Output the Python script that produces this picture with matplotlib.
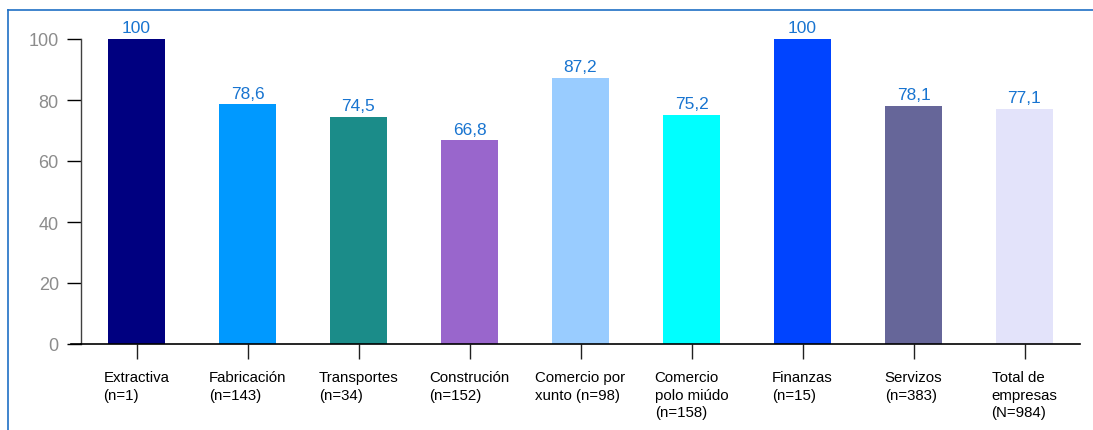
import matplotlib
matplotlib.use("Agg")
import matplotlib.pyplot as plt
from matplotlib.lines import Line2D

plt.rcParams['font.family'] = ['Liberation Sans', 'DejaVu Sans']

categories = ["Extractiva\n(n=1)", "Fabricación\n(n=143)", "Transportes\n(n=34)",
              "Construción\n(n=152)", "Comercio por\nxunto (n=98)", "Comercio\npolo miúdo\n(n=158)",
              "Finanzas\n(n=15)", "Servizos\n(n=383)", "Total de\nempresas\n(N=984)"]
values = [100, 78.6, 74.5, 66.8, 87.2, 75.2, 100, 78.1, 77.1]
value_labels = ["100", "78,6", "74,5", "66,8", "87,2", "75,2", "100", "78,1", "77,1"]
colors = ["#000080", "#0099FF", "#1B8C89", "#9966CC", "#99CCFF", "#00FFFF",
          "#0044FF", "#666699", "#E3E3FA"]
yticks = [0, 20, 40, 60, 80, 100]

W, H = 1093, 431
fig = plt.figure(figsize=(W / 100, H / 100), dpi=100)
ax = fig.add_axes([81 / W, (H - 345) / H, (1080 - 81) / W, (345 - 40) / H])

x = list(range(len(categories)))
ax.bar(x, values, width=0.505, color=colors, zorder=2)
ax.set_xlim(-0.5, len(categories) - 0.5)
ax.set_ylim(0, 100)

for xi, v, lab in zip(x, values, value_labels):
    ax.text(xi, v + 1.2, lab, ha='center', va='bottom', color='#1874D0',
            fontsize=12.5, clip_on=False)

ax.set_yticks(yticks)
ax.set_yticklabels([str(t) for t in yticks], color='#8C8C8C', fontsize=13)
ax.set_xticks(x)
ax.set_xticklabels(categories, fontsize=10.8, color='#000000',
                   ha='center', multialignment='left', linespacing=1.3)
ax.tick_params(axis='y', length=10, width=1, color='#000000', pad=6, direction='out')
ax.tick_params(axis='x', length=11, width=1, color='#202020', pad=8, direction='out')

for s in ['top', 'right']:
    ax.spines[s].set_visible(False)
ax.spines['left'].set_color('#404040')
ax.spines['bottom'].set_color('#000000')
ax.spines['left'].set_linewidth(1)
ax.spines['bottom'].set_linewidth(1.2)

# x-axis line extends slightly left of y axis
ax.plot([-0.59, -0.5], [0, 0], color='#000000', lw=1.2, clip_on=False, zorder=3)

# blue frame
fig.add_artist(Line2D([8 / W, 1.0], [1 - 11 / H, 1 - 11 / H], color='#1F6FC5', lw=1.2,
                      transform=fig.transFigure))
fig.add_artist(Line2D([8 / W, 8 / W], [0, 1 - 11 / H], color='#1F6FC5', lw=1.2,
                      transform=fig.transFigure))

fig.savefig("out.png", dpi=100, facecolor='white')
